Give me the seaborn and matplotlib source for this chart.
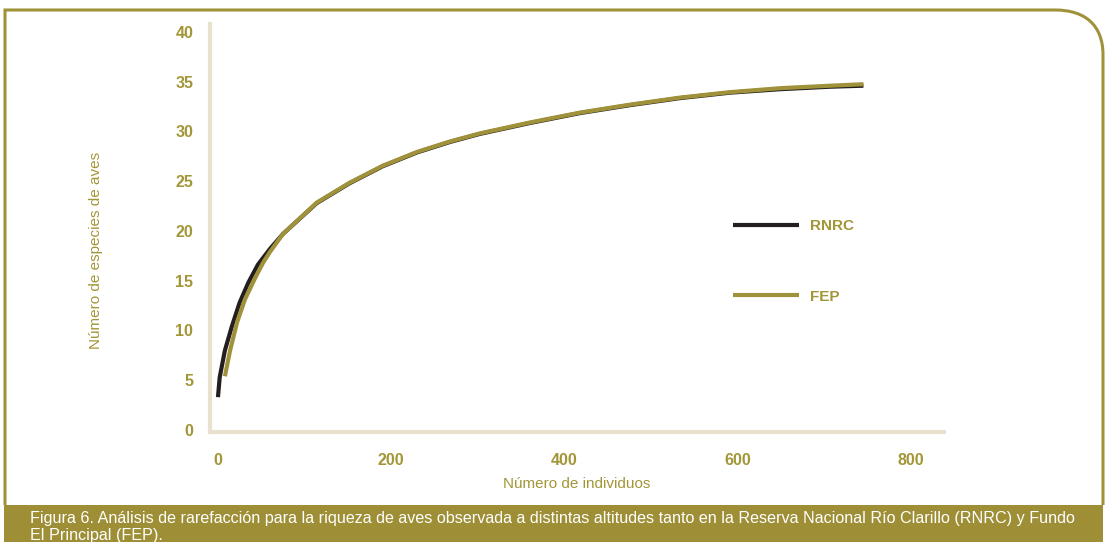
import pandas as pd
import matplotlib.pyplot as plt
import seaborn as sns
from matplotlib.path import Path
from matplotlib.patches import PathPatch, Rectangle

# Rarefaction curves
individuos_rnrc = [0, 2, 8, 16, 25, 35, 46, 60, 75, 114, 152, 190, 230, 268,
                   302, 360, 418, 476, 533, 591, 649, 707, 745]
especies_rnrc = [3.3, 5.3, 8.0, 10.4, 12.8, 14.8, 16.6, 18.2, 19.7, 22.8, 24.8,
                 26.5, 27.9, 28.95, 29.75, 30.85, 31.85, 32.65, 33.35, 33.9,
                 34.25, 34.5, 34.6]
individuos_fep = [8, 14, 22, 31, 43, 52, 60, 75, 114, 152, 190, 230, 268, 302,
                  360, 418, 476, 533, 591, 649, 707, 745]
especies_fep = [5.4, 8.0, 10.8, 13.1, 15.3, 16.8, 17.9, 19.7, 22.85, 24.85, 26.55,
                27.95, 29.0, 29.8, 30.9, 31.9, 32.7, 33.4, 33.95, 34.35, 34.6,
                34.75]

x_ticks = [0, 200, 400, 600, 800]
y_ticks = [0, 5, 10, 15, 20, 25, 30, 35, 40]

caption = ("Figura 6. Análisis de rarefacción para la riqueza de aves observada a "
           "distintas altitudes tanto en la Reserva Nacional Río Clarillo (RNRC) y Fundo\n"
           "El Principal (FEP).")

OLIVE = "#a0923a"
TEXT_OLIVE = "#a39637"
BLACK = "#231f20"
BEIGE = "#e7e1cd"

df = pd.concat([
    pd.DataFrame({"individuos": individuos_rnrc, "especies": especies_rnrc, "sitio": "RNRC"}),
    pd.DataFrame({"individuos": individuos_fep, "especies": especies_fep, "sitio": "FEP"}),
])

sns.set_theme(style="white")
plt.rcParams["font.family"] = ["Liberation Sans", "DejaVu Sans"]

W, H = 1105, 542
fig = plt.figure(figsize=(W / 100, H / 100), dpi=100)
ax = fig.add_axes([210 / W, 1 - 432 / H, 734 / W, 408 / H])

sns.lineplot(data=df, x="individuos", y="especies", hue="sitio",
             palette={"RNRC": BLACK, "FEP": OLIVE}, sort=False,
             linewidth=3, ax=ax, legend=False)
for line, lab in zip(ax.get_lines(), ["RNRC", "FEP"]):
    line.set_label(lab)
    line.set_solid_capstyle("butt")
    line.set_solid_joinstyle("round")

ax.set_xlim(-9.2, 838)
ax.set_ylim(-0.2, 40.8)
ax.set_xticks(x_ticks)
ax.set_yticks(y_ticks)
ax.tick_params(axis="both", length=0, labelsize=11.5, labelcolor=TEXT_OLIVE)
ax.tick_params(axis="y", pad=12)
ax.tick_params(axis="x", pad=15)
for t in ax.get_xticklabels() + ax.get_yticklabels():
    t.set_fontweight("bold")

for s in ["top", "right"]:
    ax.spines[s].set_visible(False)
for s in ["left", "bottom"]:
    ax.spines[s].set_color(BEIGE)
    ax.spines[s].set_linewidth(3)

ax.set_xlabel("Número de individuos", fontsize=11, color=TEXT_OLIVE)
ax.set_ylabel("Número de especies de aves", fontsize=11, color=TEXT_OLIVE)
ax.xaxis.set_label_coords(0.5, -0.11)
ax.yaxis.set_label_coords(-0.146, 0.446)

leg = ax.legend(loc="upper left", bbox_to_anchor=(0.7125, 0.522), frameon=False,
                handlelength=4.3, handletextpad=0.75, labelspacing=3.7,
                borderpad=0, borderaxespad=0,
                prop={"size": 11, "weight": "bold"})
for t in leg.get_texts():
    t.set_color(TEXT_OLIVE)
for h in leg.get_lines():
    h.set_linewidth(3)

# frame with rounded top-right corner
def fx(px):
    return px / W


def fy(py):
    return 1 - py / H


verts = [(fx(5), fy(505)), (fx(5), fy(10)), (fx(1055), fy(10)),
         (fx(1085), fy(10)), (fx(1103), fy(25)), (fx(1103), fy(55)),
         (fx(1103), fy(505))]
codes = [Path.MOVETO, Path.LINETO, Path.LINETO,
         Path.CURVE4, Path.CURVE4, Path.CURVE4, Path.LINETO]
fig.add_artist(PathPatch(Path(verts, codes), transform=fig.transFigure,
                         facecolor="none", edgecolor=OLIVE, linewidth=2.2))

# caption bar
fig.add_artist(Rectangle((fx(4), 0), fx(1103) - fx(4), fy(505),
                         transform=fig.transFigure, facecolor="#9e8f36",
                         edgecolor="none"))
fig.text(fx(30), fy(511), caption, ha="left", va="top", fontsize=11.6,
         color="white", linespacing=1.2)

fig.savefig("out.png", dpi=100)
